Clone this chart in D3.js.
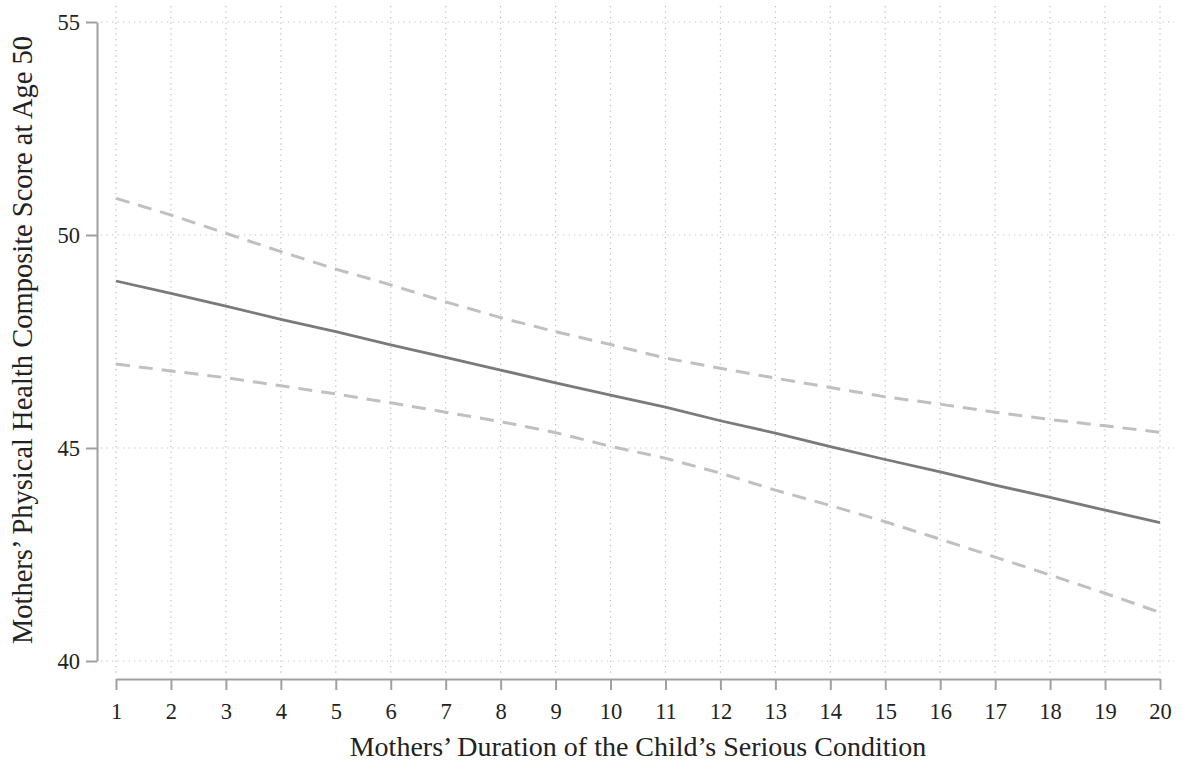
<!DOCTYPE html>
<html>
<head>
<meta charset="utf-8">
<title>Mothers' Physical Health</title>
<script src="https://cdn.jsdelivr.net/npm/d3@7"></script>
<style>
html, body { margin: 0; padding: 0; background: #fff; }
svg { display: block; font-family: "Liberation Serif", "DejaVu Serif", serif; }
.axis path, .axis line { stroke: #a0a0a0; stroke-width: 2; }
.axis text { fill: #222; font-size: 22.5px; font-family: "Liberation Serif", serif; }
.grid line { stroke: #bdbdbd; stroke-width: 1.2; stroke-dasharray: 1.2 4.3; }
</style>
</head>
<body>
<div id="chart"></div>
<script>
// duration (years)
const duration = d3.range(1, 21);
// predicted score + 95% CI
const predicted = [48.92, 48.63, 48.33, 48.02, 47.73, 47.42, 47.13, 46.83, 46.53, 46.24,
                   45.96, 45.64, 45.35, 45.03, 44.73, 44.44, 44.13, 43.84, 43.54, 43.25];
const upper = [50.86, 50.47, 50.04, 49.61, 49.20, 48.83, 48.43, 48.06, 47.73, 47.43,
               47.11, 46.87, 46.64, 46.42, 46.20, 46.03, 45.84, 45.67, 45.52, 45.37];
const lower = [46.97, 46.81, 46.65, 46.46, 46.27, 46.06, 45.84, 45.62, 45.36, 45.04,
               44.76, 44.41, 44.01, 43.65, 43.27, 42.86, 42.44, 42.02, 41.59, 41.14];
const yTicks = [40, 45, 50, 55];

const width = 1186, height = 766;

const svg = d3.select("#chart").append("svg")
    .attr("width", width).attr("height", height);

const x = d3.scaleLinear().domain([1, 20]).range([116, 1160]);
const y = d3.scaleLinear().domain([40, 55]).range([661, 22]);

// dotted grid
const grid = svg.append("g").attr("class", "grid");
grid.selectAll(".v").data(duration).enter().append("line")
    .attr("x1", d => x(d)).attr("x2", d => x(d))
    .attr("y1", 6).attr("y2", 677);
grid.selectAll(".h").data(yTicks).enter().append("line")
    .attr("x1", 101).attr("x2", 1174)
    .attr("y1", d => y(d)).attr("y2", d => y(d));

// axes
svg.append("g").attr("class", "axis")
    .attr("transform", "translate(97,0)")
    .call(d3.axisLeft(y).tickValues(yTicks).tickSize(11).tickSizeOuter(0).tickPadding(6));

svg.append("g").attr("class", "axis")
    .attr("transform", "translate(0,679)")
    .call(d3.axisBottom(x).tickValues(duration).tickSize(11).tickSizeOuter(0).tickPadding(13));

// lines
const line = vals => d3.line()
    .x((d, i) => x(duration[i]))
    .y(d => y(d))(vals);

svg.append("path").attr("d", line(upper))
    .attr("fill", "none").attr("stroke", "#c0c0c0")
    .attr("stroke-width", 3).attr("stroke-dasharray", "14 9");
svg.append("path").attr("d", line(lower))
    .attr("fill", "none").attr("stroke", "#c0c0c0")
    .attr("stroke-width", 3).attr("stroke-dasharray", "14 9");
svg.append("path").attr("d", line(predicted))
    .attr("fill", "none").attr("stroke", "#7a7a7a")
    .attr("stroke-width", 2.8);

// axis titles
svg.append("text")
    .attr("x", 638).attr("y", 756)
    .attr("text-anchor", "middle")
    .attr("font-size", 28).attr("fill", "#222")
    .text("Mothers\u2019 Duration of the Child\u2019s Serious Condition");

svg.append("text")
    .attr("transform", "translate(32,340) rotate(-90)")
    .attr("text-anchor", "middle")
    .attr("font-size", 28.5).attr("fill", "#222")
    .text("Mothers\u2019 Physical Health Composite Score at Age 50");
</script>
</body>
</html>
